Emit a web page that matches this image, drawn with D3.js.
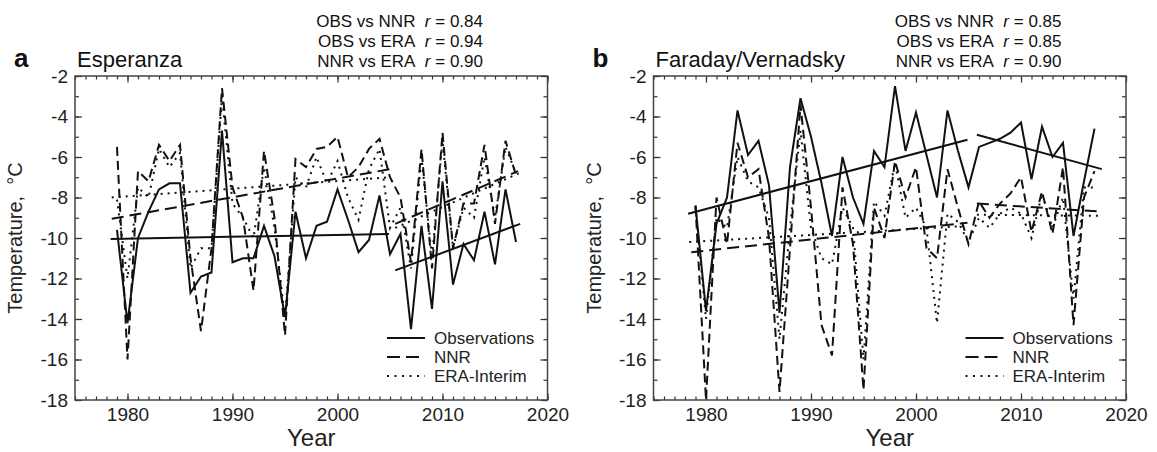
<!DOCTYPE html>
<html>
<head>
<meta charset="utf-8">
<script src="https://cdn.jsdelivr.net/npm/d3@7"></script>
<style>
	body { margin: 0; background: #fff; }
	svg { display: block; font-family: "Liberation Sans", Arial, sans-serif; }
</style>
</head>
<body>
<svg id="chart" width="1157" height="452"></svg>
<script>
"use strict";

// annual mean temperature, degC, 1979 - 2017
var years = [1979, 1980, 1981, 1982, 1983, 1984, 1985, 1986, 1987, 1988,
	1989, 1990, 1991, 1992, 1993, 1994, 1995, 1996, 1997, 1998,
	1999, 2000, 2001, 2002, 2003, 2004, 2005, 2006, 2007, 2008,
	2009, 2010, 2011, 2012, 2013, 2014, 2015, 2016, 2017];

var esperanzaObs = [-9.6, -14.2, -10.0, -8.7, -7.6, -7.3, -7.3, -12.7, -11.9, -11.7,
	-4.7, -11.2, -11.0, -11.0, -9.4, -10.9, -13.9, -8.7, -11.0, -9.4,
	-9.2, -7.6, -9.1, -10.7, -10.1, -7.9, -10.8, -9.8, -14.5, -9.4,
	-13.5, -7.2, -12.3, -10.3, -11.1, -8.7, -11.3, -7.6, -10.2];
var esperanzaNNR = [-5.5, -16.0, -6.7, -7.2, -5.4, -6.2, -5.4, -11.0, -14.6, -10.5,
	-2.6, -7.5, -9.0, -12.6, -5.7, -9.0, -14.8, -6.1, -6.5, -5.6,
	-5.5, -5.0, -7.0, -6.5, -5.6, -5.1, -7.0, -8.0, -11.2, -5.6,
	-11.5, -4.8, -10.5, -8.3, -8.3, -5.4, -9.3, -5.2, -6.9];
var esperanzaERA = [-8.1, -12.0, -7.5, -8.0, -5.6, -6.5, -5.8, -11.5, -10.5, -10.5,
	-3.0, -8.3, -9.0, -10.0, -6.5, -9.5, -14.0, -7.0, -7.5, -6.0,
	-7.3, -6.2, -8.0, -9.1, -6.6, -5.6, -9.5, -8.5, -11.5, -6.0,
	-11.0, -5.2, -10.5, -8.5, -9.0, -6.0, -9.0, -5.5, -6.8];

var faradayObs = [-8.4, -13.6, -9.3, -8.0, -3.7, -5.9, -5.2, -7.4, -13.7, -6.5,
	-3.1, -5.0, -7.3, -9.9, -6.0, -8.0, -9.3, -5.7, -6.5, -2.5,
	-5.7, -3.8, -5.9, -8.0, -3.7, -5.7, -7.5, -5.5, -5.3, -5.1,
	-4.8, -4.3, -7.1, -4.5, -6.0, -5.3, -9.9, -7.2, -4.6];
var faradayNNR = [-8.4, -18.0, -8.0, -10.3, -5.3, -7.0, -6.6, -10.0, -17.6, -10.5,
	-3.4, -8.5, -14.3, -15.8, -7.5, -10.3, -17.5, -8.5, -10.0, -6.2,
	-8.0, -6.5, -10.5, -11.0, -6.6, -8.5, -10.3, -8.2, -9.0, -8.3,
	-7.8, -7.0, -9.7, -7.7, -9.8, -6.5, -14.3, -8.0, -6.7];
var faradayERA = [-8.5, -14.0, -9.0, -9.5, -6.0, -7.2, -7.5, -9.0, -15.0, -9.5,
	-4.7, -9.5, -11.0, -11.3, -8.5, -9.5, -16.0, -8.2, -8.9, -6.3,
	-9.0, -8.5, -9.5, -14.2, -8.8, -9.2, -10.2, -9.0, -9.5, -8.8,
	-8.5, -8.8, -10.0, -7.8, -9.5, -8.0, -13.0, -7.5, -7.5];

// linear trends: [year start, value start, year end, value end]
var esperanzaObsTrend = [[1978.4, -10.05, 2004.9, -9.8], [2005.5, -11.6, 2017.4, -9.3]];
var esperanzaNNRTrend = [[1978.5, -9.05, 2005.0, -6.6], [2005.5, -9.3, 2017.2, -6.7]];
var esperanzaERATrend = [[1978.5, -8.0, 2005.0, -7.0], [2005.5, -9.5, 2017.3, -6.8]];
var faradayObsTrend = [[1978.3, -8.8, 2004.9, -5.15], [2005.8, -4.9, 2017.7, -6.6]];
var faradayNNRTrend = [[1978.6, -10.7, 2004.9, -9.25], [2005.8, -8.3, 2017.7, -8.7]];
var faradayERATrend = [[1978.4, -10.2, 2004.9, -9.4], [2005.8, -8.85, 2017.4, -8.9]];

var esperanzaCorr = [["OBS vs NNR", "0.84"], ["OBS vs ERA", "0.94"], ["NNR vs ERA", "0.90"]];
var faradayCorr = [["OBS vs NNR", "0.85"], ["OBS vs ERA", "0.85"], ["NNR vs ERA", "0.90"]];

var legendNames = ["Observations", "NNR", "ERA-Interim"];
var yearTicks = [1980, 1990, 2000, 2010, 2020];
var tempTicks = [-2, -4, -6, -8, -10, -12, -14, -16, -18];

var svg = d3.select("#chart");
var NB = "\u00A0";

var styles = {
	obs: { dash: null, width: 2 },
	nnr: { dash: "9,5", width: 2 },
	era: { dash: "2,5", width: 2 }
};

function drawPanel(left, letter, title, corr, obs, nnr, era, trends) {
	var top = 76, bottom = 400, plotW = 472.5;
	var x = d3.scaleLinear().domain([1975, 2020]).range([left, left + plotW]);
	var y = d3.scaleLinear().domain([-18, -2]).range([bottom, top]);
	var g = svg.append("g");

	var minorYears = d3.range(1975, 2021);
	var minorTemps = d3.range(-18, -1);

	function styleAxis(sel) {
		sel.select(".domain").remove();
		sel.selectAll("line").attr("stroke", "#333").attr("stroke-width", 1.2);
		sel.selectAll("text").attr("fill", "#222").style("font-size", "19px")
			.style("font-family", "'Liberation Sans', Arial, sans-serif");
	}

	// minor ticks first
	g.append("g").attr("transform", "translate(0," + bottom + ")")
		.call(d3.axisBottom(x).tickValues(minorYears).tickSize(-3.5).tickFormat(""))
		.call(styleAxis);
	g.append("g").attr("transform", "translate(0," + top + ")")
		.call(d3.axisTop(x).tickValues(minorYears).tickSize(-3.5).tickFormat(""))
		.call(styleAxis);
	g.append("g").attr("transform", "translate(" + left + ",0)")
		.call(d3.axisLeft(y).tickValues(minorTemps).tickSize(-4).tickFormat(""))
		.call(styleAxis);
	g.append("g").attr("transform", "translate(" + (left + plotW) + ",0)")
		.call(d3.axisRight(y).tickValues(minorTemps).tickSize(-4).tickFormat(""))
		.call(styleAxis);

	// major ticks
	g.append("g").attr("transform", "translate(0," + bottom + ")")
		.call(d3.axisBottom(x).tickValues(yearTicks).tickSize(-6.5).tickPadding(8).tickFormat(d3.format("d")))
		.call(styleAxis);
	g.append("g").attr("transform", "translate(0," + top + ")")
		.call(d3.axisTop(x).tickValues(yearTicks).tickSize(-6.5).tickFormat(""))
		.call(styleAxis);
	g.append("g").attr("transform", "translate(" + left + ",0)")
		.call(d3.axisLeft(y).tickValues(tempTicks).tickSize(-7).tickPadding(7).tickFormat(d3.format("d")))
		.call(styleAxis);
	g.append("g").attr("transform", "translate(" + (left + plotW) + ",0)")
		.call(d3.axisRight(y).tickValues(tempTicks).tickSize(-7).tickFormat(""))
		.call(styleAxis);

	g.selectAll(".tick text").text(function() {
		return d3.select(this).text().replace("\u2212", "-");
	});

	// frame
	g.append("rect")
		.attr("x", left).attr("y", top)
		.attr("width", plotW).attr("height", bottom - top)
		.attr("fill", "none").attr("stroke", "#444").attr("stroke-width", 1.5);

	var line = d3.line()
		.x(function(d) { return x(d[0]); })
		.y(function(d) { return y(d[1]); });

	var series = [["era", era], ["nnr", nnr], ["obs", obs]];
	series.forEach(function(s) {
		var pts = years.map(function(yr, i) { return [yr, s[1][i]]; });
		g.append("path")
			.datum(pts)
			.attr("d", line)
			.attr("fill", "none")
			.attr("stroke", "#111")
			.attr("stroke-width", styles[s[0]].width)
			.attr("stroke-dasharray", styles[s[0]].dash)
			.attr("stroke-linejoin", "miter");
	});

	// trend lines
	["era", "nnr", "obs"].forEach(function(k) {
		trends[k].forEach(function(t) {
			g.append("path")
				.datum([[t[0], t[1]], [t[2], t[3]]])
				.attr("d", line)
				.attr("fill", "none")
				.attr("stroke", "#111")
				.attr("stroke-width", 2)
				.attr("stroke-dasharray", k === "obs" ? null : (k === "nnr" ? "12,6" : "2,5"));
		});
	});

	// legend
	var lx = left + 312;
	legendNames.forEach(function(name, i) {
		var key = ["obs", "nnr", "era"][i];
		var ly = 338 + i * 19;
		g.append("line")
			.attr("x1", lx).attr("x2", lx + 38)
			.attr("y1", ly).attr("y2", ly)
			.attr("stroke", "#111").attr("stroke-width", 2)
			.attr("stroke-dasharray", key === "nnr" ? "13,6" : (key === "era" ? "2,5.5" : null));
		g.append("text")
			.attr("x", lx + 47).attr("y", ly + 5.5)
			.style("font-size", "17px").attr("fill", "#222")
			.text(name);
	});

	// panel letter and title
	g.append("text")
		.attr("x", left - 61).attr("y", 66.5)
		.style("font-size", "26px").style("font-weight", "bold").attr("fill", "#111")
		.text(letter);
	g.append("text")
		.attr("x", left + 2).attr("y", 66.5)
		.style("font-size", "22px").attr("fill", "#111")
		.text(title);

	// correlation block
	corr.forEach(function(c, i) {
		var t = g.append("text")
			.attr("x", left + 408).attr("y", 26.5 + i * 20)
			.attr("text-anchor", "end")
			.style("font-size", "17px").attr("fill", "#111");
		t.append("tspan").text(c[0] + NB + NB);
		t.append("tspan").style("font-style", "italic").text("r");
		t.append("tspan").text(NB + "=" + NB + c[1]);
	});

	// axis titles
	g.append("text")
		.attr("transform", "translate(" + (left - 53) + "," + ((top + bottom) / 2) + ") rotate(-90)")
		.attr("text-anchor", "middle")
		.style("font-size", "20px").attr("fill", "#222")
		.text("Temperature," + NB + NB + "\u00B0C");
	g.append("text")
		.attr("x", left + plotW / 2).attr("y", 446)
		.attr("text-anchor", "middle")
		.style("font-size", "24px").attr("fill", "#222")
		.text("Year");
}

drawPanel(75, "a", "Esperanza", esperanzaCorr, esperanzaObs, esperanzaNNR, esperanzaERA,
	{ obs: esperanzaObsTrend, nnr: esperanzaNNRTrend, era: esperanzaERATrend });
drawPanel(653.5, "b", "Faraday/Vernadsky", faradayCorr, faradayObs, faradayNNR, faradayERA,
	{ obs: faradayObsTrend, nnr: faradayNNRTrend, era: faradayERATrend });
</script>
</body>
</html>
